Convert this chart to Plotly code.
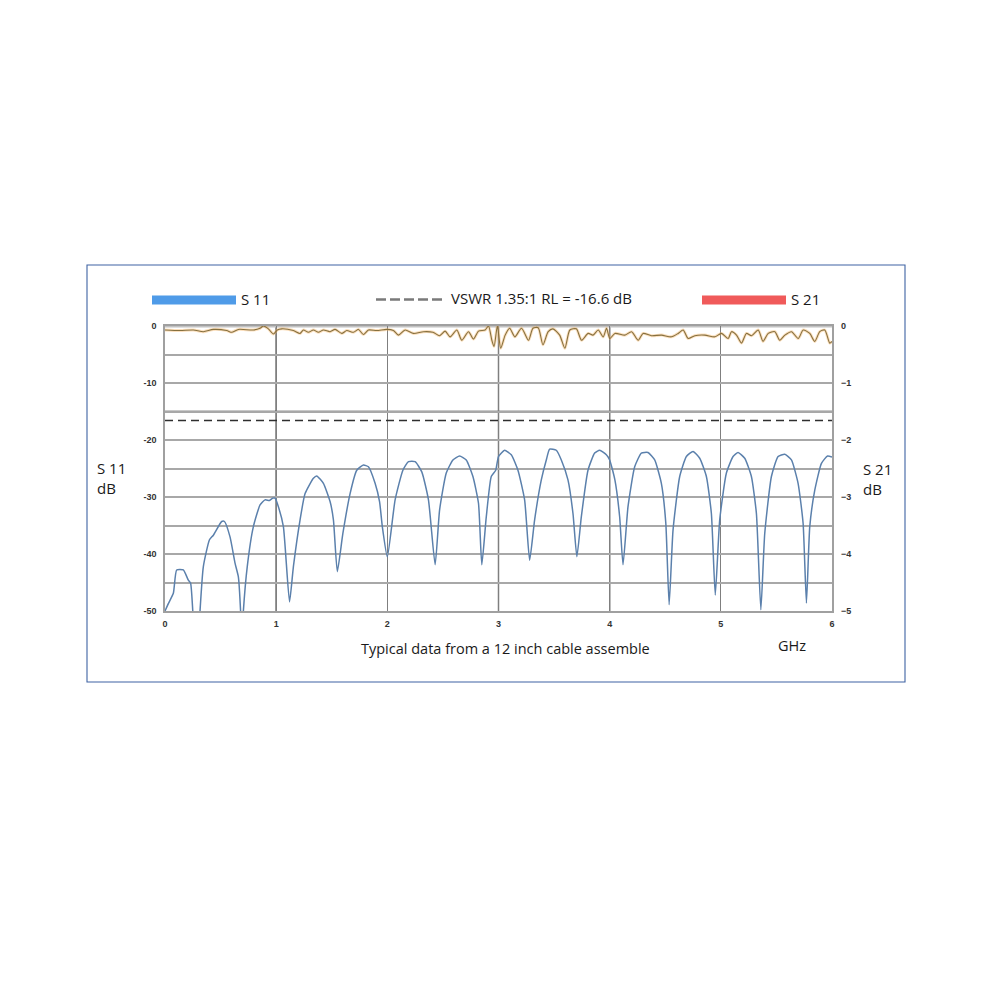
import plotly.graph_objects as go

# ---------------- data ----------------
s11_freq = [
    0.0, 0.03, 0.075, 0.105, 0.165, 0.21, 0.23, 0.25, 0.27, 0.30,
    0.315, 0.345, 0.40, 0.435, 0.51, 0.535, 0.585, 0.63, 0.66, 0.68,
    0.69, 0.705, 0.74, 0.795, 0.855, 0.9, 0.94, 0.97, 0.99, 1.02,
    1.065, 1.12, 1.155, 1.215, 1.26, 1.335, 1.365, 1.425, 1.485, 1.515,
    1.55, 1.6, 1.665, 1.725, 1.785, 1.83, 1.89, 1.93, 1.955, 2.0,
    2.07, 2.14, 2.19, 2.25, 2.31, 2.37, 2.43, 2.47, 2.53, 2.59,
    2.65, 2.71, 2.77, 2.82, 2.85, 2.89, 2.935, 2.975, 3.0, 3.055,
    3.115, 3.175, 3.235, 3.28, 3.325, 3.385, 3.43, 3.46, 3.52, 3.565,
    3.625, 3.67, 3.705, 3.745, 3.805, 3.865, 3.91, 3.97, 4.0, 4.047,
    4.09, 4.12, 4.165, 4.225, 4.285, 4.345, 4.405, 4.465, 4.505, 4.535,
    4.57, 4.63, 4.69, 4.75, 4.81, 4.87, 4.915, 4.95, 4.99, 5.05,
    5.11, 5.155, 5.215, 5.275, 5.32, 5.36, 5.395, 5.455, 5.515, 5.575,
    5.635, 5.695, 5.74, 5.77, 5.8, 5.845, 5.905, 5.96, 6.0,
]
s11_db = [
    -50.0, -48.7, -46.9, -42.8, -42.8, -44.6, -45.1, -50.0, -56.0, -56.0,
    -50.0, -42.2, -37.5, -36.7, -34.3, -34.3, -37.0, -41.6, -44.0, -50.0,
    -56.0, -50.0, -42.2, -35.2, -31.4, -30.5, -30.6, -30.2, -30.2, -31.7,
    -35.2, -48.4, -42.2, -34.0, -29.4, -26.7, -26.3, -27.6, -30.8, -34.0,
    -43.1, -36.4, -29.4, -25.3, -24.4, -24.7, -27.6, -30.8, -35.2, -40.5,
    -30.5, -25.3, -23.8, -23.8, -25.6, -30.5, -41.9, -32.3, -25.8, -23.5,
    -22.8, -23.5, -26.4, -31.1, -41.9, -33.5, -26.4, -25.3, -22.9, -21.8,
    -22.6, -25.3, -30.5, -41.1, -34.0, -27.0, -23.5, -21.6, -21.8, -23.5,
    -27.0, -32.9, -40.5, -33.5, -25.3, -22.3, -21.8, -22.6, -23.5, -27.0,
    -33.5, -41.9, -31.7, -24.7, -22.3, -22.2, -23.5, -27.6, -34.6, -48.9,
    -35.8, -26.4, -22.9, -22.0, -23.2, -26.4, -32.9, -47.2, -34.0, -25.8,
    -22.9, -22.2, -23.2, -26.4, -32.9, -49.8, -36.4, -26.4, -22.9, -22.5,
    -23.5, -27.6, -34.6, -48.6, -35.2, -28.8, -24.1, -22.8, -23.0,
]

s21_freq = [
    0.0, 0.135, 0.255, 0.345, 0.435, 0.555, 0.6, 0.66, 0.795, 0.855,
    0.885, 0.93, 0.975, 1.01, 1.05, 1.155, 1.215, 1.245, 1.29, 1.335,
    1.38, 1.425, 1.485, 1.53, 1.59, 1.635, 1.695, 1.74, 1.785, 1.83,
    1.905, 1.995, 2.055, 2.1, 2.16, 2.235, 2.325, 2.41, 2.47, 2.52,
    2.565, 2.625, 2.67, 2.73, 2.775, 2.82, 2.88, 2.91, 2.94, 2.96,
    2.99, 3.02, 3.06, 3.10, 3.147, 3.207, 3.27, 3.31, 3.357, 3.40,
    3.447, 3.49, 3.55, 3.597, 3.642, 3.70, 3.747, 3.807, 3.85, 3.897,
    3.942, 3.972, 4.002, 4.047, 4.137, 4.197, 4.257, 4.30, 4.376, 4.466,
    4.556, 4.616, 4.661, 4.706, 4.766, 4.856, 4.946, 5.006, 5.066, 5.096,
    5.141, 5.186, 5.23, 5.276, 5.336, 5.38, 5.426, 5.486, 5.53, 5.576,
    5.636, 5.696, 5.741, 5.80, 5.845, 5.89, 5.935, 5.98, 6.0,
]
s21_db = [
    -0.07, -0.08, -0.07, -0.10, -0.06, -0.08, -0.11, -0.06, -0.07, -0.04,
    0.00, -0.05, -0.14, -0.07, -0.05, -0.08, -0.13, -0.07, -0.11, -0.07,
    -0.11, -0.07, -0.10, -0.06, -0.13, -0.08, -0.11, -0.06, -0.15, -0.07,
    -0.08, -0.06, -0.08, -0.16, -0.07, -0.13, -0.10, -0.11, -0.17, -0.09,
    -0.19, -0.07, -0.25, -0.10, -0.23, -0.09, -0.07, 0.00, -0.25, -0.36,
    0.00, -0.39, -0.16, -0.04, -0.19, -0.04, -0.25, -0.04, -0.03, -0.33,
    -0.10, -0.05, -0.16, -0.39, -0.07, -0.05, -0.25, -0.13, -0.16, -0.07,
    -0.19, -0.04, -0.22, -0.13, -0.16, -0.10, -0.25, -0.13, -0.17, -0.16,
    -0.19, -0.13, -0.07, -0.22, -0.17, -0.16, -0.19, -0.13, -0.22, -0.10,
    -0.16, -0.30, -0.13, -0.17, -0.07, -0.27, -0.13, -0.10, -0.25, -0.16,
    -0.10, -0.22, -0.07, -0.13, -0.27, -0.10, -0.07, -0.30, -0.27,
]

vswr_freq = [0, 6]
vswr_rl = [-16.6, -16.6]

x_ticks = [0, 1, 2, 3, 4, 5, 6]
y1_tickvals = [0, -5, -10, -15, -20, -25, -30, -35, -40, -45, -50]
y1_ticktext = ["0", "", "-10", "", "-20", "", "-30", "", "-40", "", "-50"]
y2_ticks = [0, -1, -2, -3, -4, -5]
dark_x_grid = [1, 3, 4]
dark_y_grid = [-10, -15]

legend_s11 = "S 11"
legend_vswr = "VSWR 1.35:1 RL = -16.6 dB"
legend_s21 = "S 21"
caption = "Typical data from a 12 inch cable assemble"

# ---------------- layout helpers ----------------
OFF = 8  # page body margin of the browser


def px(x):
    return (x - OFF) / 1000


def py(y):
    return 1 - (y - OFF) / 1000


TXT = dict(family="Open Sans", size=15, color="#1a1a1a")
TICK = dict(family="Liberation Sans", size=9, color="#333333", weight="bold")

fig = go.Figure()

fig.add_trace(go.Scatter(
    x=s11_freq, y=s11_db, mode="lines", name="S 11",
    line=dict(color="#5b80ac", width=1.5, shape="spline", smoothing=0.5),
    showlegend=False))

fig.add_trace(go.Scatter(
    x=vswr_freq, y=vswr_rl, mode="lines", name="VSWR",
    line=dict(color="#2e2e2e", width=1.5, dash="8px,5px"), showlegend=False))

fig.add_trace(go.Scatter(
    x=s21_freq, y=s21_db, mode="lines", yaxis="y2", name="S 21 glow",
    line=dict(color="rgba(245,175,90,0.40)", width=3.0, shape="spline", smoothing=0.7),
    showlegend=False, hoverinfo="skip"))
fig.add_trace(go.Scatter(
    x=s21_freq, y=s21_db, mode="lines", yaxis="y2", name="S 21",
    line=dict(color="#86703f", width=1.1, shape="spline", smoothing=0.7),
    showlegend=False))

shapes = []
for xv in dark_x_grid:
    shapes.append(dict(type="line", xref="x", yref="y", x0=xv, x1=xv, y0=-50, y1=0,
                       line=dict(color="#2f2f2f", width=1.3), layer="below"))
for yv in dark_y_grid:
    shapes.append(dict(type="line", xref="x", yref="y", x0=0, x1=6, y0=yv, y1=yv,
                       line=dict(color="#2a2a2a", width=1.4), layer="below"))
shapes.append(dict(type="line", xref="x", yref="y", x0=0, x1=6, y0=0, y1=0,
                   line=dict(color="#c2c2c2", width=3), layer="below"))
# outer frame
shapes.append(dict(type="rect", xref="paper", yref="paper", x0=px(87), x1=px(905),
                   y0=py(682), y1=py(265), line=dict(color="#3f63a3", width=1.1),
                   layer="below"))
# legend marks
shapes.append(dict(type="rect", xref="paper", yref="paper", x0=px(152), x1=px(236),
                   y0=py(304.5), y1=py(295.5), fillcolor="#4f9be8", line=dict(width=0)))
shapes.append(dict(type="line", xref="paper", yref="paper", x0=px(376), x1=px(443),
                   y0=py(299.5), y1=py(299.5),
                   line=dict(color="#7a7a7a", width=2.6, dash="10px,4px")))
shapes.append(dict(type="rect", xref="paper", yref="paper", x0=px(702), x1=px(786),
                   y0=py(304.5), y1=py(295.5), fillcolor="#f05a5a", line=dict(width=0)))

ann = []


def txt(x, y, t, xanchor="left", size=15):
    f = dict(TXT)
    f["size"] = size
    ann.append(dict(xref="paper", yref="paper", x=px(x), y=py(y), text=t,
                    showarrow=False, xanchor=xanchor, yanchor="middle", align="left",
                    font=f))


txt(239, 299, legend_s11)
txt(449, 298, legend_vswr)
txt(789, 299, legend_s21)
txt(95, 478, "S 11<br>dB")
txt(861, 479, "S 21<br>dB")
txt(505, 648, caption, xanchor="center", size=14.5)
txt(776, 645, "GHz", size=14.5)

fig.update_layout(
    width=1000, height=1000,
    margin=dict(l=0, r=0, t=0, b=0),
    paper_bgcolor="white", plot_bgcolor="white",
    template="none",
    shapes=shapes, annotations=ann,
    xaxis=dict(domain=[px(165), px(832)], range=[0, 6], tickvals=x_ticks,
               showgrid=True, gridcolor="#7f7f7f", gridwidth=1.3,
               showline=True, linecolor="#a0a0a0", linewidth=1.5, mirror=True,
               zeroline=False, ticks="", tickfont=TICK, ticklabelstandoff=3),
    yaxis=dict(domain=[py(611), py(326)], range=[-50, 0],
               tickvals=y1_tickvals, ticktext=y1_ticktext,
               showgrid=True, gridcolor="#a8a8a8", gridwidth=1.6,
               showline=True, linecolor="#a0a0a0", linewidth=1.5, mirror=True,
               zeroline=False, ticks="", tickfont=TICK, ticklabelstandoff=5),
    yaxis2=dict(overlaying="y", side="right", range=[-5, 0], tickvals=y2_ticks,
                showgrid=False, zeroline=False, showline=False, ticks="",
                tickfont=TICK, ticklabelstandoff=8),
)

fig.write_html("out.html")
